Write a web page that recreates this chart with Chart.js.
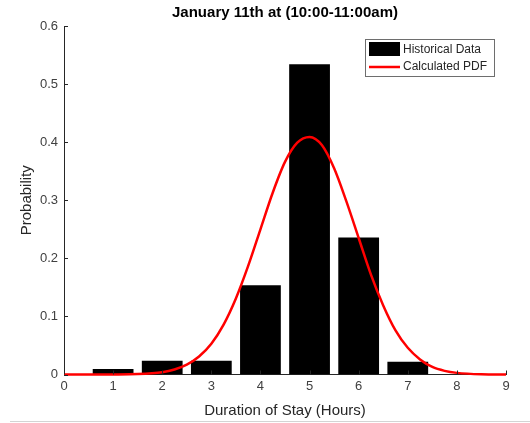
<!DOCTYPE html>
<html>
<head>
<meta charset="utf-8">
<script src="https://cdn.jsdelivr.net/npm/chart.js@4"></script>
<style>
  body { margin: 0; background: #fff; }
  #wrap { position: relative; width: 530px; height: 423px; }
  #rule { position: absolute; left: 10px; top: 421px; width: 520px; height: 1px; background: #d4d4d4; }
</style>
</head>
<body>
<div id="wrap">
  <canvas id="pdfChart" width="530" height="423"></canvas>
  <div id="rule"></div>
</div>
<script>
// Histogram of observed stay durations
const durationHours = [1, 2, 3, 4, 5, 6, 7];
const historicalProb = [0.0095, 0.0238, 0.0238, 0.1535, 0.534, 0.236, 0.022];

// Fitted PDF
const pdfHours = [0, 0.5, 1, 1.5, 2, 2.25, 2.5, 2.75, 3, 3.25, 3.5, 3.75, 4, 4.25, 4.5, 4.75,
                  5, 5.25, 5.5, 5.75, 6, 6.25, 6.5, 6.75, 7, 7.25, 7.5, 7.75, 8, 8.5, 9];
const pdfProb = [0, 0, 0.0001, 0.0007, 0.004, 0.0087, 0.017, 0.031, 0.053, 0.086, 0.131, 0.187,
                 0.25, 0.313, 0.366, 0.399, 0.409, 0.395, 0.355, 0.298, 0.235, 0.172, 0.119,
                 0.076, 0.046, 0.026, 0.013, 0.0063, 0.0028, 0.0004, 0];

const xTicks = [0, 1, 2, 3, 4, 5, 6, 7, 8, 9];
const yTicks = [0, 0.1, 0.2, 0.3, 0.4, 0.5, 0.6];

const FONT = "'Liberation Sans', Arial, Helvetica, sans-serif";
const AXIS_COLOR = '#262626';

// Title, inward tick marks and the boxed legend, drawn the MATLAB way
const matlabDecor = {
    id: 'matlabDecor',
    afterDraw(chart) {
        const { ctx, chartArea } = chart;
        const xs = chart.scales.x;
        const ys = chart.scales.y;
        ctx.save();

        // inward ticks
        ctx.strokeStyle = AXIS_COLOR;
        ctx.lineWidth = 1;
        ctx.beginPath();
        yTicks.forEach(v => {
            const py = Math.round(ys.getPixelForValue(v)) + 0.5;
            ctx.moveTo(chartArea.left, py);
            ctx.lineTo(chartArea.left + 4, py);
        });
        xTicks.forEach(v => {
            const px = Math.round(xs.getPixelForValue(v)) + 0.5;
            ctx.moveTo(px, chartArea.bottom);
            ctx.lineTo(px, chartArea.bottom - 4);
        });
        ctx.stroke();

        // title
        ctx.fillStyle = '#000';
        ctx.font = 'bold 15px ' + FONT;
        ctx.textAlign = 'center';
        ctx.textBaseline = 'middle';
        ctx.fillText('January 11th at (10:00-11:00am)', (chartArea.left + chartArea.right) / 2, 13);

        // legend
        const ds = chart.data.datasets;
        const bx = 365, by = 39, bw = 129, bh = 37;
        ctx.fillStyle = '#fff';
        ctx.fillRect(bx, by, bw, bh);
        ctx.strokeStyle = '#6e6e6e';
        ctx.strokeRect(bx + 0.5, by + 0.5, bw, bh);

        ctx.fillStyle = ds[0].backgroundColor;
        ctx.fillRect(369, 42, 31, 14);
        ctx.strokeStyle = ds[1].borderColor;
        ctx.lineWidth = 2.5;
        ctx.beginPath();
        ctx.moveTo(369, 67);
        ctx.lineTo(400, 67);
        ctx.stroke();

        ctx.fillStyle = AXIS_COLOR;
        ctx.font = '12px ' + FONT;
        ctx.textAlign = 'left';
        ctx.fillText(ds[0].label, 403, 50);
        ctx.fillText(ds[1].label, 403, 67);
        ctx.restore();
    }
};

new Chart(document.getElementById('pdfChart'), {
    type: 'bar',
    data: {
        datasets: [{
            type: 'bar',
            label: 'Historical Data',
            data: durationHours.map((h, i) => ({ x: h, y: historicalProb[i] })),
            backgroundColor: '#000000',
            borderWidth: 0,
            barPercentage: 0.83,
            categoryPercentage: 1,
            order: 2
        }, {
            type: 'line',
            label: 'Calculated PDF',
            data: pdfHours.map((h, i) => ({ x: h, y: pdfProb[i] })),
            borderColor: '#ff0000',
            borderWidth: 2.5,
            pointRadius: 0,
            fill: false,
            cubicInterpolationMode: 'monotone',
            clip: 6,
            order: 1
        }]
    },
    options: {
        responsive: false,
        animation: false,
        devicePixelRatio: 1,
        layout: { padding: { left: 0, right: 24, top: 26, bottom: 0 } },
        plugins: {
            legend: { display: false },
            tooltip: { enabled: false },
            title: { display: false }
        },
        scales: {
            x: {
                type: 'linear',
                min: 0,
                max: 9,
                offset: false,
                grid: { display: false, drawTicks: false },
                border: { display: true, color: AXIS_COLOR, width: 1 },
                afterBuildTicks: axis => { axis.ticks = xTicks.map(v => ({ value: v })); },
                afterFit: axis => { axis.height = 48.5; },
                ticks: {
                    padding: 4,
                    color: '#404040',
                    font: { family: FONT, size: 13 },
                    maxRotation: 0
                },
                title: {
                    display: true,
                    text: 'Duration of Stay (Hours)',
                    color: AXIS_COLOR,
                    font: { family: FONT, size: 15 },
                    padding: { top: 0, bottom: 3 }
                }
            },
            y: {
                type: 'linear',
                min: 0,
                max: 0.6,
                grid: { display: false, drawTicks: false },
                border: { display: true, color: AXIS_COLOR, width: 1 },
                afterBuildTicks: axis => { axis.ticks = yTicks.map(v => ({ value: v })); },
                afterFit: axis => { axis.width = 64; },
                ticks: {
                    padding: 6,
                    color: '#404040',
                    font: { family: FONT, size: 13 },
                    callback: v => (v === 0 ? '0' : v.toFixed(1))
                },
                title: {
                    display: true,
                    text: 'Probability',
                    color: AXIS_COLOR,
                    font: { family: FONT, size: 15 },
                    padding: { top: 18, bottom: 0 }
                }
            }
        }
    },
    plugins: [matlabDecor]
});
</script>
</body>
</html>
